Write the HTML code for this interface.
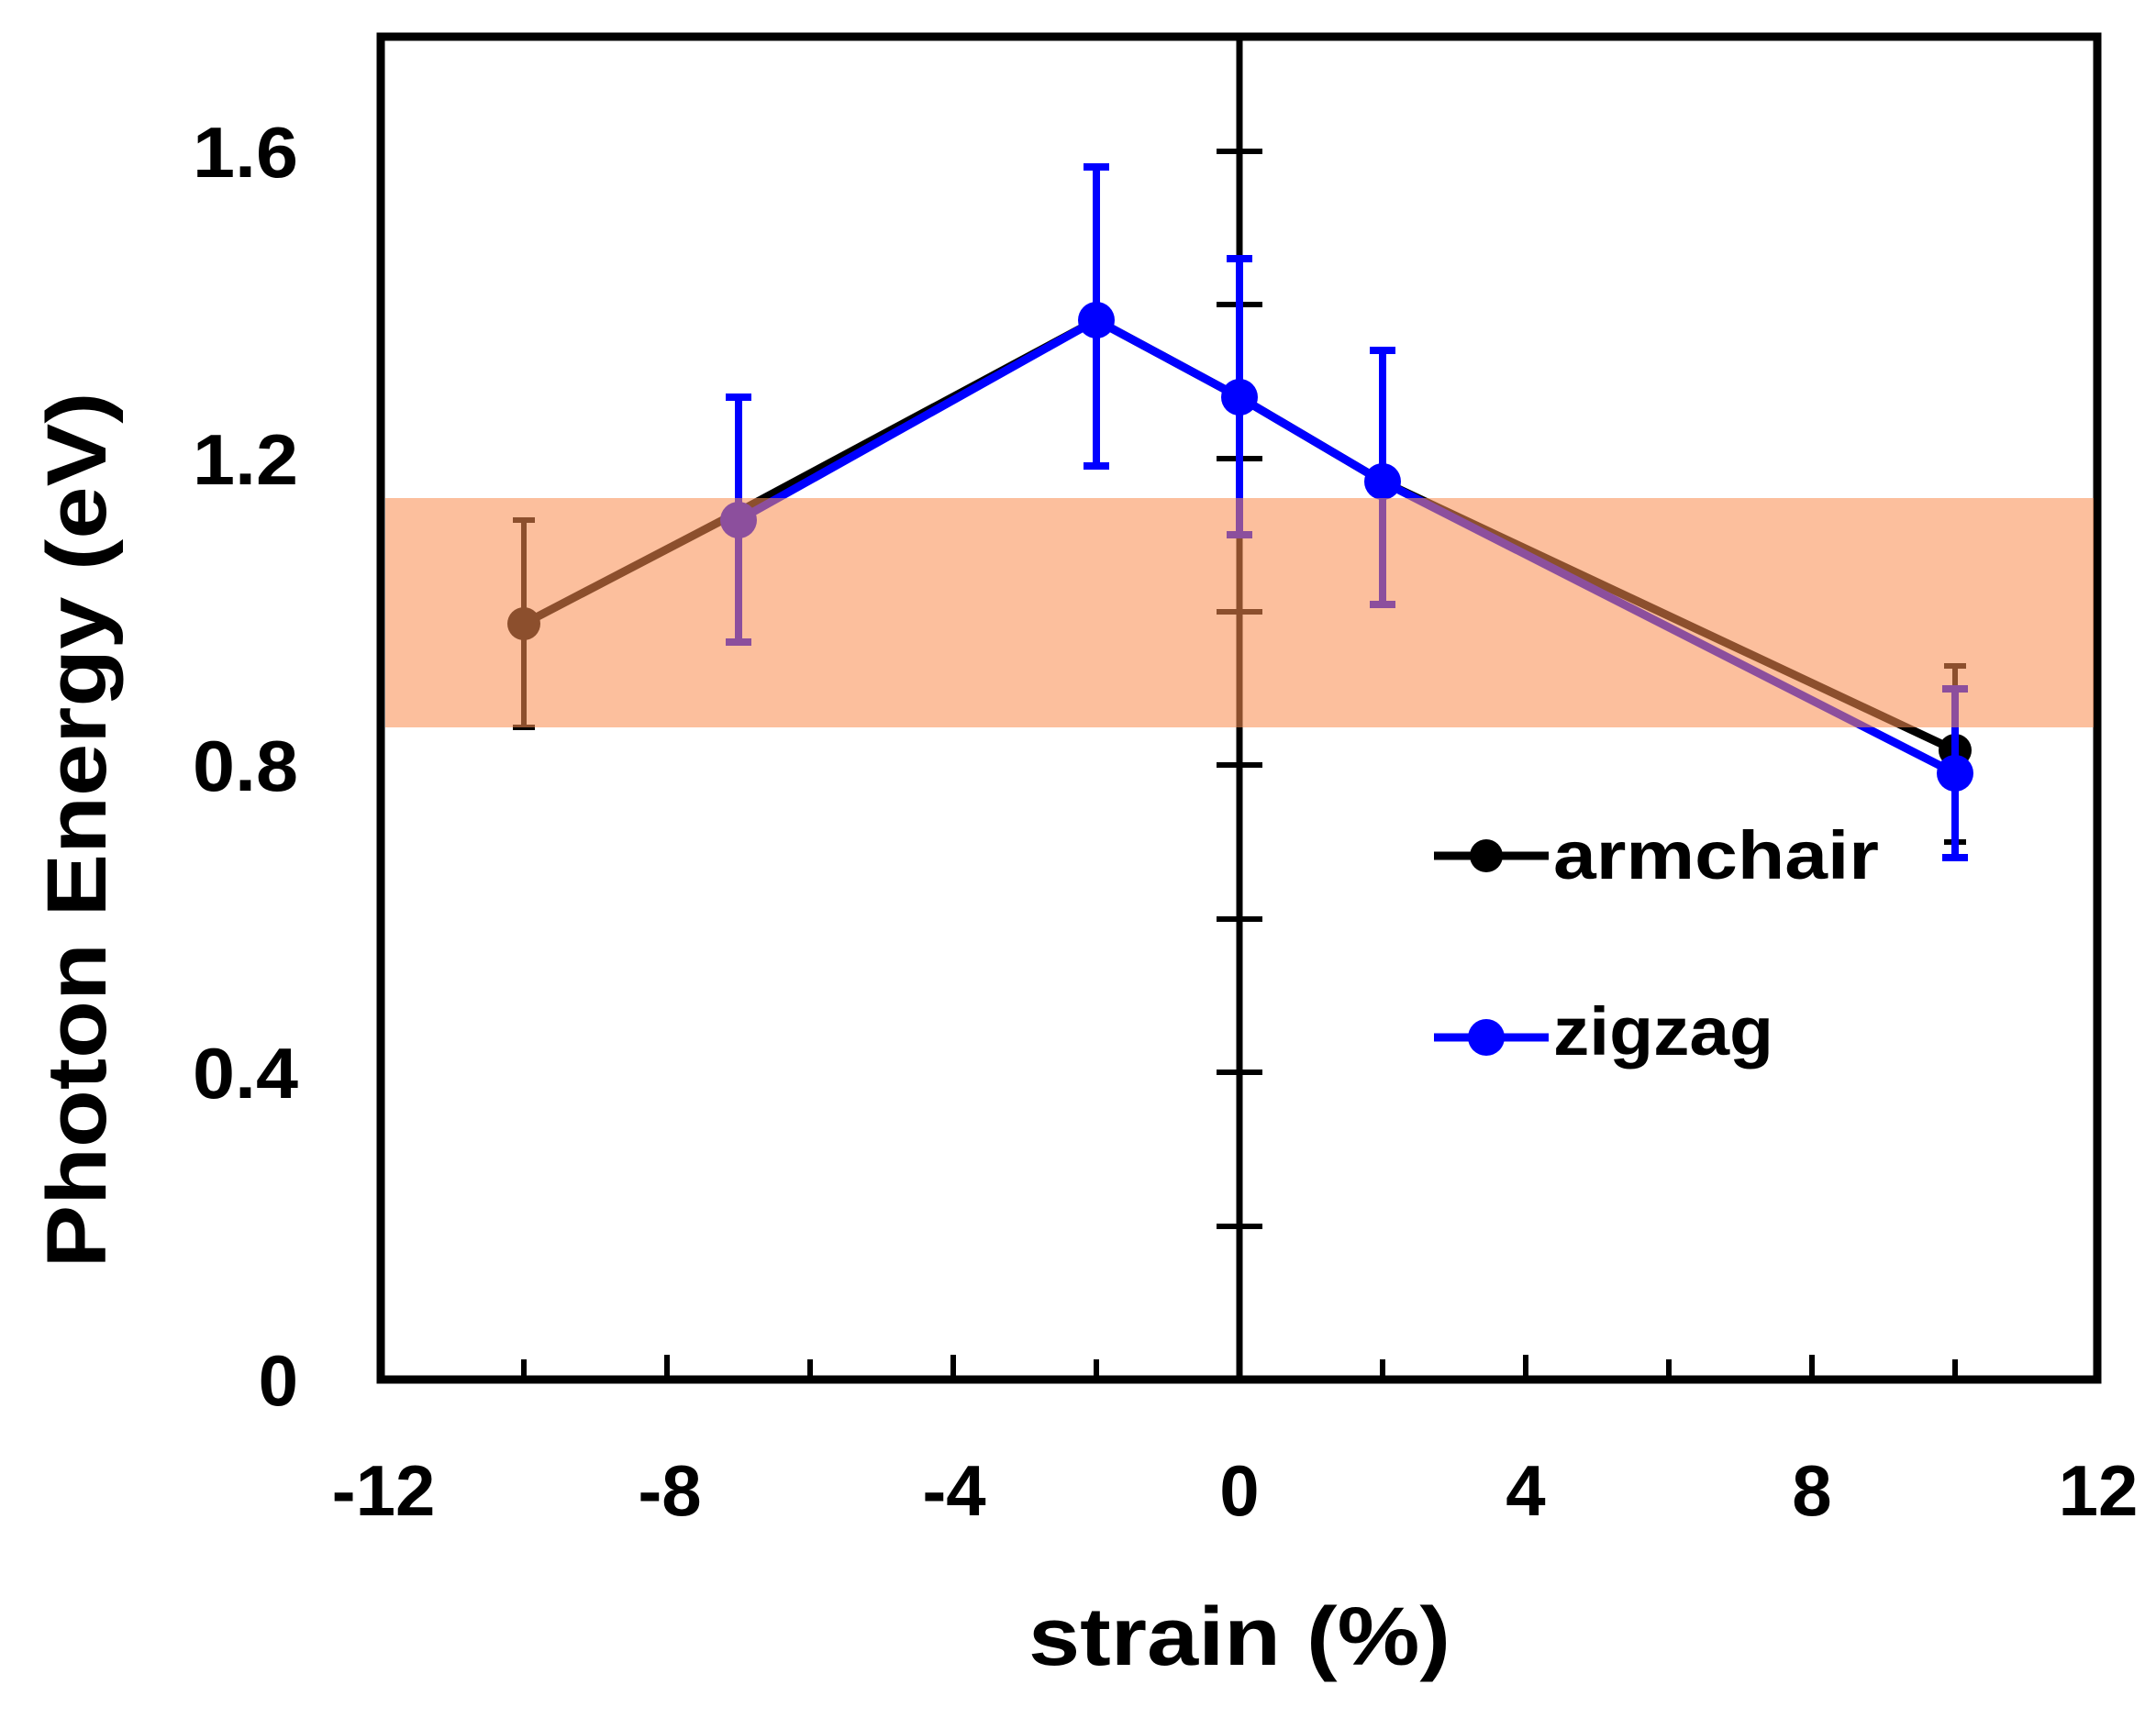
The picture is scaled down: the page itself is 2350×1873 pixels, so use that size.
<!DOCTYPE html>
<html><head><style>body{margin:0;background:#fff}svg{display:block}</style></head><body>
<svg width="2350" height="1873" viewBox="0 0 2350 1873" xmlns="http://www.w3.org/2000/svg" font-family="'Liberation Sans',sans-serif" font-weight="bold">
<rect width="2350" height="1873" fill="#fff"/>
<rect x="415" y="40" width="1871" height="1464" fill="none" stroke="#000" stroke-width="9"/>
<line x1="1351" y1="40" x2="1351" y2="1504" stroke="#000" stroke-width="7"/>
<g stroke="#000" stroke-width="6">
<line x1="1326" x2="1376" y1="1337" y2="1337"/><line x1="1326" x2="1376" y1="1169" y2="1169"/>
<line x1="1326" x2="1376" y1="1002" y2="1002"/><line x1="1326" x2="1376" y1="834" y2="834"/>
<line x1="1326" x2="1376" y1="667" y2="667"/><line x1="1326" x2="1376" y1="500" y2="500"/>
<line x1="1326" x2="1376" y1="332" y2="332"/><line x1="1326" x2="1376" y1="165" y2="165"/>
<line x1="571" x2="571" y1="1504" y2="1482"/><line x1="727" x2="727" y1="1504" y2="1477"/>
<line x1="883" x2="883" y1="1504" y2="1482"/><line x1="1039" x2="1039" y1="1504" y2="1477"/>
<line x1="1195" x2="1195" y1="1504" y2="1482"/><line x1="1507" x2="1507" y1="1504" y2="1482"/>
<line x1="1663" x2="1663" y1="1504" y2="1477"/><line x1="1819" x2="1819" y1="1504" y2="1482"/>
<line x1="1975" x2="1975" y1="1504" y2="1477"/><line x1="2131" x2="2131" y1="1504" y2="1482"/>
</g>
<g stroke="#000" stroke-width="6" fill="none">
<line x1="571" x2="571" y1="793" y2="567"/><line x1="559" x2="583" y1="793" y2="793"/><line x1="559" x2="583" y1="567" y2="567"/>
<line x1="1351" x2="1351" y1="667" y2="583"/><line x1="1339" x2="1363" y1="667" y2="667"/><line x1="1339" x2="1363" y1="583" y2="583"/>
<line x1="2131" x2="2131" y1="918" y2="726"/><line x1="2119" x2="2143" y1="918" y2="918"/><line x1="2119" x2="2143" y1="726" y2="726"/>
<polyline stroke-width="9" points="571,680 805,558 1195,349 1351,433 1507,525 2131,818"/>
</g>
<g fill="#000"><circle cx="571" cy="680" r="18"/><circle cx="2131" cy="818" r="18"/></g>
<g stroke="#0000ff" stroke-width="8" fill="none">
<line x1="805" x2="805" y1="700" y2="433"/><line x1="791" x2="819" y1="700" y2="700"/><line x1="791" x2="819" y1="433" y2="433"/>
<line x1="1195" x2="1195" y1="508" y2="182"/><line x1="1181" x2="1209" y1="508" y2="508"/><line x1="1181" x2="1209" y1="182" y2="182"/>
<line x1="1351" x2="1351" y1="583" y2="282"/><line x1="1337" x2="1365" y1="583" y2="583"/><line x1="1337" x2="1365" y1="282" y2="282"/>
<line x1="1507" x2="1507" y1="659" y2="382"/><line x1="1493" x2="1521" y1="659" y2="659"/><line x1="1493" x2="1521" y1="382" y2="382"/>
<line x1="2131" x2="2131" y1="935" y2="751"/><line x1="2117" x2="2145" y1="935" y2="935"/><line x1="2117" x2="2145" y1="751" y2="751"/>
<polyline stroke-width="9" points="805,567 1195,349 1351,433 1507,525 2131,843"/>
</g>
<g fill="#0000ff"><circle cx="805" cy="567" r="20"/><circle cx="1195" cy="349" r="20"/><circle cx="1351" cy="433" r="20"/><circle cx="1507" cy="525" r="20"/><circle cx="2131" cy="843" r="20"/></g>
<rect x="420" y="543" width="1862" height="250" fill="rgb(250,140,80)" fill-opacity="0.56"/>
<line x1="1563" x2="1688" y1="933" y2="933" stroke="#000" stroke-width="9"/><circle cx="1620" cy="933" r="18" fill="#000"/>
<text x="1693" y="958" font-size="74" textLength="355" lengthAdjust="spacingAndGlyphs">armchair</text>
<line x1="1563" x2="1688" y1="1131" y2="1131" stroke="#0000ff" stroke-width="9"/><circle cx="1620" cy="1131" r="20" fill="#0000ff"/>
<text x="1693" y="1150" font-size="74" textLength="240" lengthAdjust="spacingAndGlyphs">zigzag</text>
<g font-size="78" text-anchor="end">
<text x="325" y="1532">0</text><text x="325" y="1197" textLength="115" lengthAdjust="spacingAndGlyphs">0.4</text><text x="325" y="862" textLength="115" lengthAdjust="spacingAndGlyphs">0.8</text><text x="325" y="528" textLength="115" lengthAdjust="spacingAndGlyphs">1.2</text><text x="325" y="193" textLength="115" lengthAdjust="spacingAndGlyphs">1.6</text>
</g>
<g font-size="78" text-anchor="middle">
<text x="418" y="1652">-12</text><text x="730" y="1652">-8</text><text x="1040" y="1652">-4</text><text x="1351" y="1652">0</text>
<text x="1663" y="1652">4</text><text x="1975" y="1652">8</text><text x="2287" y="1652">12</text>
</g>
<text x="1351" y="1815" font-size="90" text-anchor="middle" textLength="460" lengthAdjust="spacingAndGlyphs">strain (%)</text>
<text transform="translate(115,905) rotate(-90)" font-size="92" text-anchor="middle" textLength="955" lengthAdjust="spacingAndGlyphs">Photon Energy (eV)</text>
</svg>
</body></html>
